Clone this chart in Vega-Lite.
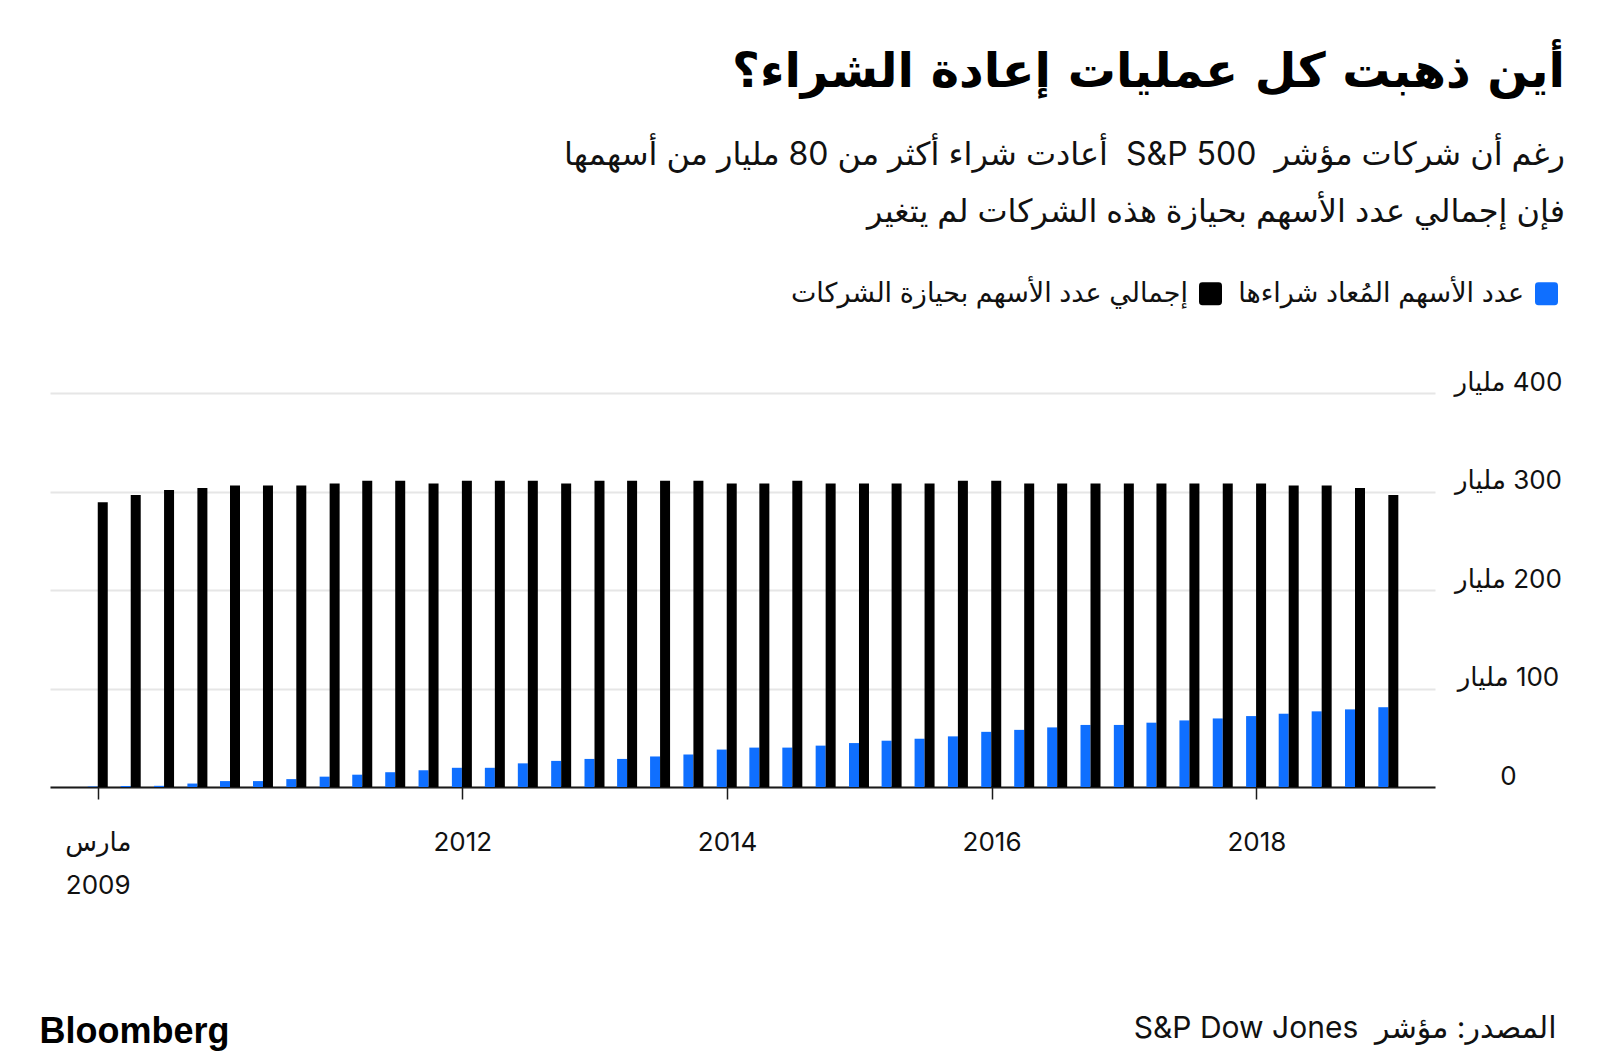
{
  "$schema": "https://vega.github.io/schema/vega-lite/v6.json",
  "width": 1385,
  "height": 394,
  "autosize": {"type": "none"},
  "padding": {"left": 50, "top": 393, "right": 165, "bottom": 273},
  "background": "white",
  "config": {"view": {"stroke": null}},
  "title": {
    "text": "\u202Bأين ذهبت كل عمليات إعادة الشراء؟\u202C",
    "subtitle": [
      "\u202Bرغم أن شركات مؤشر\u00A0\u00A0S&P 500\u00A0\u00A0أعادت شراء أكثر من 80 مليار من أسهمها\u202C",
      "\u202Bفإن إجمالي عدد الأسهم بحيازة هذه الشركات لم يتغير\u202C"
    ],
    "anchor": "end",
    "frame": "group",
    "dx": 130,
    "offset": 52,
    "font": "DejaVu Sans",
    "fontSize": 48,
    "fontWeight": "bold",
    "color": "#000000",
    "subtitleFont": "Inter, DejaVu Sans",
    "subtitleFontSize": 32,
    "subtitleColor": "#111111",
    "subtitleLineHeight": 57,
    "subtitlePadding": 43
  },
  "data": {
    "values": [
      {"date": "2009-03-31", "bought": 0.5, "total": 289},
      {"date": "2009-06-30", "bought": 1, "total": 296.5},
      {"date": "2009-09-30", "bought": 1.2, "total": 301.5},
      {"date": "2009-12-31", "bought": 3.5, "total": 303.5},
      {"date": "2010-03-31", "bought": 6, "total": 306},
      {"date": "2010-06-30", "bought": 6, "total": 306},
      {"date": "2010-09-30", "bought": 8, "total": 306},
      {"date": "2010-12-31", "bought": 10.5, "total": 308},
      {"date": "2011-03-31", "bought": 12.5, "total": 311},
      {"date": "2011-06-30", "bought": 15, "total": 311},
      {"date": "2011-09-30", "bought": 17, "total": 308},
      {"date": "2011-12-31", "bought": 19.5, "total": 311},
      {"date": "2012-03-31", "bought": 19.5, "total": 311},
      {"date": "2012-06-30", "bought": 24, "total": 311},
      {"date": "2012-09-30", "bought": 26.5, "total": 308},
      {"date": "2012-12-31", "bought": 28.5, "total": 311},
      {"date": "2013-03-31", "bought": 28.5, "total": 311},
      {"date": "2013-06-30", "bought": 31, "total": 311},
      {"date": "2013-09-30", "bought": 33, "total": 311},
      {"date": "2013-12-31", "bought": 38, "total": 308},
      {"date": "2014-03-31", "bought": 40, "total": 308},
      {"date": "2014-06-30", "bought": 40, "total": 311},
      {"date": "2014-09-30", "bought": 42, "total": 308},
      {"date": "2014-12-31", "bought": 44.6, "total": 308},
      {"date": "2015-03-31", "bought": 47, "total": 308},
      {"date": "2015-06-30", "bought": 49, "total": 308},
      {"date": "2015-09-30", "bought": 51.4, "total": 311},
      {"date": "2015-12-31", "bought": 56, "total": 311},
      {"date": "2016-03-31", "bought": 58, "total": 308},
      {"date": "2016-06-30", "bought": 60.5, "total": 308},
      {"date": "2016-09-30", "bought": 63, "total": 308},
      {"date": "2016-12-31", "bought": 63, "total": 308},
      {"date": "2017-03-31", "bought": 65.3, "total": 308},
      {"date": "2017-06-30", "bought": 67.6, "total": 308},
      {"date": "2017-09-30", "bought": 69.6, "total": 308},
      {"date": "2017-12-31", "bought": 72, "total": 308},
      {"date": "2018-03-31", "bought": 74.4, "total": 306},
      {"date": "2018-06-30", "bought": 76.8, "total": 306},
      {"date": "2018-09-30", "bought": 78.8, "total": 303.5},
      {"date": "2018-12-31", "bought": 81, "total": 296.5}
    ]
  },
  "encoding": {
    "x": {
      "field": "date",
      "type": "temporal",
      "scale": {
        "type": "utc",
        "domain": [
          {"year": 2008, "month": 12, "date": 3, "utc": true},
          {"year": 2019, "month": 4, "date": 25, "utc": true}
        ]
      },
      "axis": {
        "title": "\u202Bالمصدر: مؤشر\u00A0\u00A0S&P Dow Jones\u202C",
        "titleFont": "Inter, DejaVu Sans",
        "titleFontSize": 30,
        "titleFontWeight": "normal",
        "titleColor": "#111111",
        "titleAnchor": "end",
        "titleAlign": "right",
        "titleBaseline": "middle",
        "titleX": 1506,
        "titleY": 241,
        "values": [
          {"year": 2009, "month": 3, "date": 31, "utc": true},
          {"year": 2012, "month": 1, "date": 1, "utc": true},
          {"year": 2014, "month": 1, "date": 1, "utc": true},
          {"year": 2016, "month": 1, "date": 1, "utc": true},
          {"year": 2018, "month": 1, "date": 1, "utc": true}
        ],
        "labelExpr": "utcyear(datum.value) == 2009 ? ['مارس', '2009'] : utcFormat(datum.value, '%Y')",
        "labelFont": "Inter, DejaVu Sans",
        "labelFontSize": 26,
        "labelColor": "#111111",
        "labelLineHeight": 43,
        "labelPadding": 30,
        "labelOverlap": false,
        "labelFlush": false,
        "grid": false,
        "domainColor": "#1a1a1a",
        "domainWidth": 2,
        "tickColor": "#1a1a1a",
        "tickWidth": 1.5,
        "tickSize": 12
      }
    },
    "y": {
      "type": "quantitative",
      "scale": {"domain": [0, 400]},
      "axis": {
        "orient": "right",
        "title": "Bloomberg",
        "titleFont": "Liberation Sans",
        "titleFontSize": 36,
        "titleFontWeight": "bold",
        "titleColor": "#000000",
        "titleAngle": 0,
        "titleAlign": "left",
        "titleBaseline": "middle",
        "titleX": -1396,
        "titleY": 638,
        "values": [0, 100, 200, 300, 400],
        "labelExpr": "datum.value == 0 ? '0' : '\u202B' + datum.value + ' مليار\u202C'",
        "labelFont": "Inter, DejaVu Sans",
        "labelFontSize": 26,
        "labelColor": "#111111",
        "labelAlign": "center",
        "labelBaseline": "alphabetic",
        "labelOffset": -3,
        "labelPadding": 73,
        "domain": false,
        "ticks": false,
        "grid": true,
        "gridColor": "#e6e6e6",
        "gridWidth": 2
      }
    },
    "color": {
      "type": "nominal",
      "scale": {
        "domain": ["إجمالي عدد الأسهم بحيازة الشركات", "عدد الأسهم المُعاد شراءها"],
        "range": ["#000000", "#0F6FFF"]
      },
      "legend": {
        "orient": "none",
        "legendX": 1147,
        "legendY": -113,
        "direction": "horizontal",
        "title": null,
        "symbolType": "M -0.7 -1 H 0.7 Q 1 -1 1 -0.7 V 0.7 Q 1 1 0.7 1 H -0.7 Q -1 1 -1 0.7 V -0.7 Q -1 -1 -0.7 -1 Z",
        "symbolSize": 529,
        "symbolStrokeWidth": 0,
        "labelFont": "Inter, DejaVu Sans",
        "labelFontSize": 27,
        "labelColor": "#111111",
        "labelAlign": "right",
        "labelOffset": -36,
        "labelLimit": 0,
        "columnPadding": 16
      }
    }
  },
  "layer": [
    {
      "mark": {"type": "bar", "width": 10, "xOffset": -5},
      "encoding": {
        "y": {"field": "bought", "type": "quantitative"},
        "color": {"datum": "عدد الأسهم المُعاد شراءها", "type": "nominal"}
      }
    },
    {
      "mark": {"type": "bar", "width": 10, "xOffset": 5},
      "encoding": {
        "y": {"field": "total", "type": "quantitative"},
        "color": {"datum": "إجمالي عدد الأسهم بحيازة الشركات", "type": "nominal"}
      }
    }
  ]
}
